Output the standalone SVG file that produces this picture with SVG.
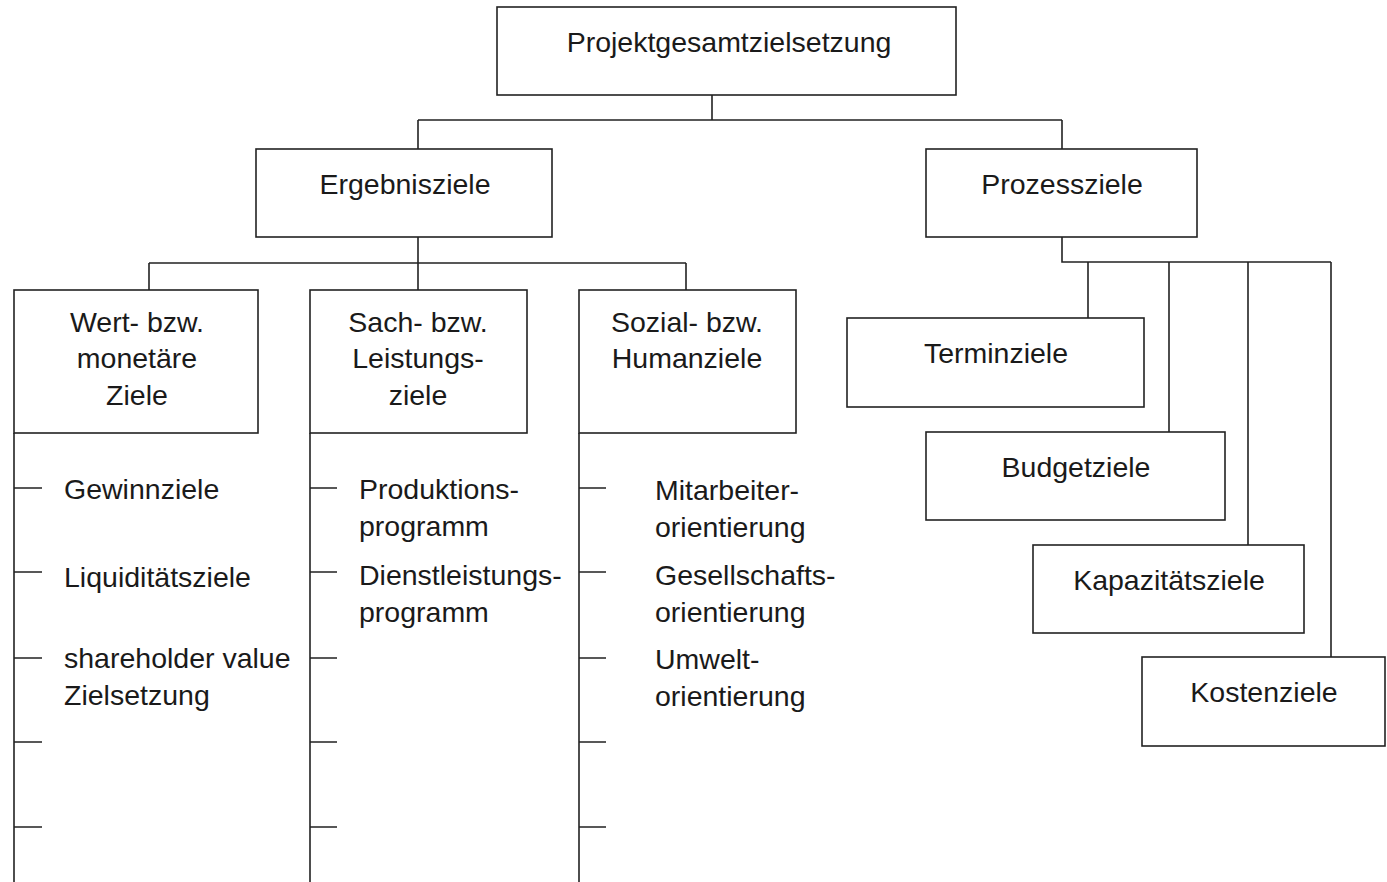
<svg xmlns="http://www.w3.org/2000/svg" width="1387" height="882" viewBox="0 0 1387 882">
<style>
.box{fill:#fff;stroke:#222;stroke-width:1.6}
.ln{fill:none;stroke:#222;stroke-width:1.6}
text{font-family:"Liberation Sans",Arial,sans-serif;font-size:28.5px;fill:#1a1a1a}
.c{text-anchor:middle}
</style>
<rect width="1387" height="882" fill="#fff"/>
<g id="connectors">
<path class="ln" d="M712,95 V120 M418,120 H1062 M418,120 V149 M1062,120 V149"/>
<path class="ln" d="M418,237 V263 M149,263 H686 M149,263 V290 M418,263 V290 M686,263 V290"/>
<path class="ln" d="M1062,237 V262 H1331 M1088,262 V318 M1169,262 V432 M1248,262 V545 M1331,262 V657"/>
<path class="ln" d="M14,433 V882 M310,433 V882 M579,433 V882"/>
<path class="ln" d="M14,488 H42 M14,572 H42 M14,658 H42 M14,742 H42 M14,827 H42"/>
<path class="ln" d="M310,488 H337 M310,572 H337 M310,658 H337 M310,742 H337 M310,827 H337"/>
<path class="ln" d="M579,488 H606 M579,572 H606 M579,658 H606 M579,742 H606 M579,827 H606"/>
</g>
<g id="n-gesamt"><rect class="box" x="497" y="7" width="459" height="88"/><text class="c" x="729" y="52">Projektgesamtzielsetzung</text></g>
<g id="n-ergebnis"><rect class="box" x="256" y="149" width="296" height="88"/><text class="c" x="405" y="194">Ergebnisziele</text></g>
<g id="n-prozess"><rect class="box" x="926" y="149" width="271" height="88"/><text class="c" x="1062" y="194">Prozessziele</text></g>
<g id="n-wert"><rect class="box" x="14" y="290" width="244" height="143"/><text class="c" x="137" y="332">Wert- bzw.</text><text class="c" x="137" y="368">monetäre</text><text class="c" x="137" y="405">Ziele</text></g>
<g id="n-sach"><rect class="box" x="310" y="290" width="217" height="143"/><text class="c" x="418" y="332">Sach- bzw.</text><text class="c" x="418" y="368">Leistungs-</text><text class="c" x="418" y="405">ziele</text></g>
<g id="n-sozial"><rect class="box" x="579" y="290" width="217" height="143"/><text class="c" x="687" y="332">Sozial- bzw.</text><text class="c" x="687" y="368">Humanziele</text></g>
<g id="n-wert-items"><text x="64" y="499">Gewinnziele</text><text x="64" y="587">Liquiditätsziele</text><text x="64" y="668">shareholder value</text><text x="64" y="705">Zielsetzung</text></g>
<g id="n-sach-items"><text x="359" y="499">Produktions-</text><text x="359" y="536">programm</text><text x="359" y="585">Dienstleistungs-</text><text x="359" y="622">programm</text></g>
<g id="n-sozial-items"><text x="655" y="500">Mitarbeiter-</text><text x="655" y="537">orientierung</text><text x="655" y="585">Gesellschafts-</text><text x="655" y="622">orientierung</text><text x="655" y="669">Umwelt-</text><text x="655" y="706">orientierung</text></g>
<g id="n-termin"><rect class="box" x="847" y="318" width="297" height="89"/><text class="c" x="996" y="363">Terminziele</text></g>
<g id="n-budget"><rect class="box" x="926" y="432" width="299" height="88"/><text class="c" x="1076" y="477">Budgetziele</text></g>
<g id="n-kapazitaet"><rect class="box" x="1033" y="545" width="271" height="88"/><text class="c" x="1169" y="590">Kapazitätsziele</text></g>
<g id="n-kosten"><rect class="box" x="1142" y="657" width="243" height="89"/><text class="c" x="1264" y="702">Kostenziele</text></g>
</svg>
